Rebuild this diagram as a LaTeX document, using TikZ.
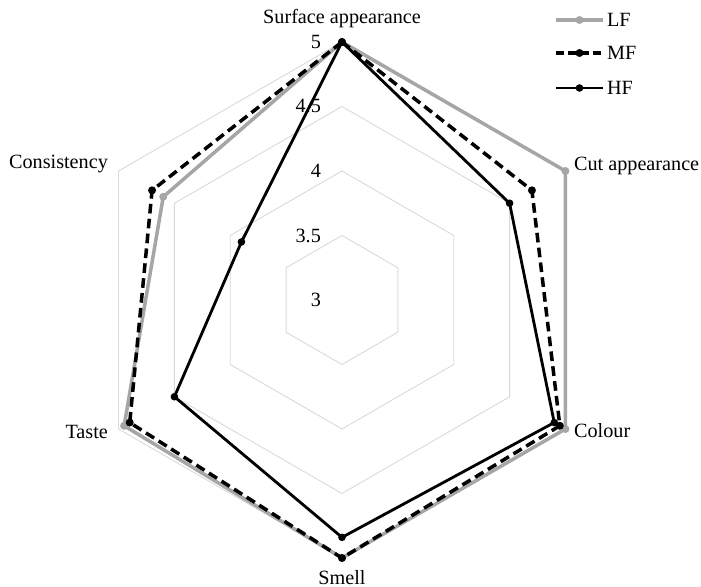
\documentclass[tikz,border=0pt]{standalone}
\usepackage{fontspec}
\setmainfont{Liberation Serif}
\usetikzlibrary{calc}

\begin{document}
\begin{tikzpicture}
  [x=0.02cm, y=0.02cm,
   every node/.style={font=\fontsize{11.5}{13}\selectfont, inner sep=1pt},
   grid/.style={draw=black!15, line width=0.5pt},
   lf/.style={draw=black!35, line width=2pt, line join=round},
   mf/.style={draw=black, line width=2pt, line join=round, dash pattern=on 5.5pt off 3pt},
   hf/.style={draw=black, line width=1.6pt, line join=round}]
  \useasboundingbox (-342,-287) rectangle (359,300);
  % grid hexagons
  \foreach \r in {64.5,129,193.5,258}
    \draw[grid] (90:\r) -- (30:\r) -- (-30:\r) -- (-90:\r) -- (-150:\r) -- (150:\r) -- cycle;
  \foreach \v [count=\i] in {3,3.5,4,4.5,5}
    \node (val\i) [anchor=east] at (-19,{129*(\v-3)}) {\v};
  % axis names
  \node (surface) at (0,281) {Surface appearance};
  \node (cut) [anchor=west] at (230,134) {Cut appearance};
  \node (colour) [anchor=west] at (230,-131) {Colour};
  \node (smell) at (0,-278) {Smell};
  \node (taste) [anchor=east] at (-232,-132) {Taste};
  \node (consistency) [anchor=east] at (-232,136) {Consistency};
  % series
  \foreach \v [count=\i] in {5,5,5,5,4.95,4.6}
    \coordinate (lf\i) at ({150-60*\i}:{129*(\v-3)});
  \foreach \v [count=\i] in {5,4.7,4.95,5,4.9,4.7}
    \coordinate (mf\i) at ({150-60*\i}:{129*(\v-3)});
  \foreach \v [count=\i] in {5,4.5,4.9,4.84,4.5,3.9}
    \coordinate (hf\i) at ({150-60*\i}:{129*(\v-3)});
  \draw[lf] (lf1) -- (lf2) -- (lf3) -- (lf4) -- (lf5) -- (lf6) -- cycle;
  \foreach \i in {1,...,6}
    \fill[black!35] (lf\i) circle (4);
  \draw[mf] (mf1) -- (mf2) -- (mf3) -- (mf4) -- (mf5) -- (mf6) -- cycle;
  \foreach \i in {1,...,6}
    \fill (mf\i) circle (4);
  \draw[hf] (hf1) -- (hf2) -- (hf3) -- (hf4) -- (hf5) -- (hf6) -- cycle;
  \foreach \i in {1,...,6}
    \fill (hf\i) circle (3.8);
  % legend
  \coordinate (lfa) at (214,280);
  \coordinate (lfb) at (261,280);
  \coordinate (mfa) at (214,247);
  \coordinate (mfb) at (261,247);
  \coordinate (hfa) at (214,212);
  \coordinate (hfb) at (261,212);
  \draw[lf] (lfa) -- (lfb);
  \fill[black!35] ($(lfa)!0.5!(lfb)$) circle (4);
  \node (lflabel) [anchor=west] at (263,280) {LF};
  \draw[mf, dash pattern=on 4.5pt off 2.5pt] (mfa) -- (mfb);
  \fill ($(mfa)!0.5!(mfb)$) circle (4);
  \node (mflabel) [anchor=west] at (263,247) {MF};
  \draw[hf] (hfa) -- (hfb);
  \fill ($(hfa)!0.5!(hfb)$) circle (3.8);
  \node (hflabel) [anchor=west] at (263,212) {HF};
\end{tikzpicture}
\end{document}
